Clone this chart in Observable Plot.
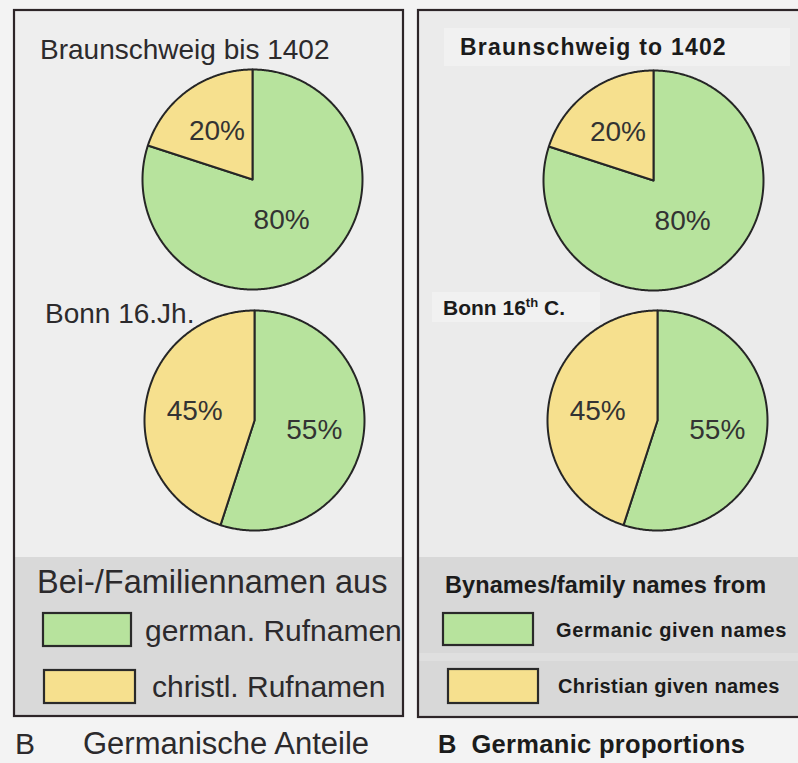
<!DOCTYPE html>
<html><head><meta charset="utf-8">
<script src="https://cdn.jsdelivr.net/npm/d3@7"></script>
<script src="https://cdn.jsdelivr.net/npm/@observablehq/plot@0.6"></script>
<style>
html,body{margin:0;padding:0;background:#f3f3f3;}
#root{position:relative;width:798px;height:763px;overflow:hidden;font-family:"Liberation Sans",Arial,sans-serif;}
.pie{position:absolute;}
#bg{position:absolute;left:0;top:0;}
</style></head>
<body><div id="root"></div>
<script>
// ---- data ----
const categories = ["germanic", "christian"];
const germanicShare = [80, 55];   // Braunschweig bis 1402, Bonn 16. Jh.
const christianShare = [20, 45];
const titlesDE = ["Braunschweig bis 1402", "Bonn 16.Jh."];
const titlesEN = ["Braunschweig to 1402", "Bonn 16", "th", " C."];
const legendTitleDE = "Bei-/Familiennamen aus";
const legendTitleEN = "Bynames/family names from";
const legendDE = ["german. Rufnamen", "christl. Rufnamen"];
const legendEN = ["Germanic given names", "Christian given names"];
const captionDE = ["B", "Germanische Anteile"];
const captionEN = "B  Germanic proportions";
const colors = ["#b7e39d", "#f6e08e"];

// ---- layout ----
const root = d3.select("#root");
const W = 798, H = 763;
const svg = root.append("svg").attr("id", "bg").attr("width", W).attr("height", H);

// backgrounds
svg.append("rect").attr("x", 0).attr("y", 0).attr("width", W).attr("height", H).attr("fill", "#f3f3f3");
svg.append("rect").attr("x", 14).attr("y", 10).attr("width", 389).attr("height", 706).attr("fill", "#eeeeee");
svg.append("rect").attr("x", 418).attr("y", 10).attr("width", 390).attr("height", 707).attr("fill", "#ebebeb");
svg.append("rect").attr("x", 14).attr("y", 557).attr("width", 389).attr("height", 159).attr("fill", "#d9d9d9");
svg.append("rect").attr("x", 418).attr("y", 557).attr("width", 390).attr("height", 160).attr("fill", "#d8d8d8");
svg.append("rect").attr("x", 418).attr("y", 653).attr("width", 390).attr("height", 8).attr("fill", "#dfdfdf");
svg.append("rect").attr("x", 444).attr("y", 28).attr("width", 346).attr("height", 38).attr("fill", "#f1f1f1");
svg.append("rect").attr("x", 432).attr("y", 292).attr("width", 168).attr("height", 30).attr("fill", "#f1f1f1");
// frames
svg.append("rect").attr("x", 14).attr("y", 10).attr("width", 389).attr("height", 706)
  .attr("fill", "none").attr("stroke", "#2d2528").attr("stroke-width", 2.2);
svg.append("rect").attr("x", 418).attr("y", 10).attr("width", 392).attr("height", 707)
  .attr("fill", "none").attr("stroke", "#2d2528").attr("stroke-width", 2.2);

function txt(s, x, y, size, weight, extra) {
  const t = svg.append("text").attr("x", x).attr("y", y)
    .attr("font-family", "Liberation Sans, Arial, sans-serif")
    .attr("font-size", size).attr("font-weight", weight || "normal")
    .attr("fill", weight === "bold" ? "#1b1b1b" : "#2c2a2c").text(s);
  if (extra) extra(t);
  return t;
}

// left (German) panel
txt(titlesDE[0], 40, 59, 28);
txt(titlesDE[1], 45, 323, 28);
txt(legendTitleDE, 37, 593, 32.5);
txt(legendDE[0], 145, 641, 30);
txt(legendDE[1], 152, 697, 30);
txt(captionDE[0], 15, 754, 30);
txt(captionDE[1], 83, 754, 31);

// right (English) panel
txt(titlesEN[0], 460, 55, 23, "bold", t => t.attr("letter-spacing", 1.2));
{
  const t = txt(titlesEN[1], 443, 315, 21, "bold");
  t.append("tspan").attr("font-size", 13).attr("dy", -8).text(titlesEN[2]);
  t.append("tspan").attr("dy", 8).text(titlesEN[3]);
}
txt(legendTitleEN, 445, 593, 23.5, "bold", t => t.attr("letter-spacing", 0.1));
txt(legendEN[0], 556, 637, 20, "bold", t => t.attr("letter-spacing", 0.6));
txt(legendEN[1], 558, 693, 20, "bold", t => t.attr("letter-spacing", 0.4));
txt(captionEN, 438, 753, 25.5, "bold", t => t.attr("xml:space", "preserve").style("white-space", "pre").attr("letter-spacing", 0.3));

// legend swatches
const swatches = [
  [43, 613, 88, 33], [44, 670, 91, 33],
  [443, 613, 90, 32], [448, 669, 90, 34]
];
swatches.forEach(([x, y, w, h], i) => {
  svg.append("rect").attr("x", x).attr("y", y).attr("width", w).attr("height", h)
    .attr("fill", colors[i % 2]).attr("stroke", "#2a2a2a").attr("stroke-width", 2.2);
});

// ---- pies drawn with Plot ----
const pie = d3.pie().sort(null).value(d => d.value).startAngle(0).endAngle(2 * Math.PI);
const R = 110, S = 240;
function pieChart(idx, cx, cy) {
  const rows = categories.map((c, i) => ({cat: c, value: i === 0 ? germanicShare[idx] : christianShare[idx]}));
  const slices = pie(rows);
  const pts = [];
  for (const s of slices) {
    pts.push({cat: s.data.cat, x: 0, y: 0});
    const n = Math.max(2, Math.ceil((s.endAngle - s.startAngle) / 0.01));
    for (let k = 0; k <= n; k++) {
      const a = s.startAngle + (s.endAngle - s.startAngle) * k / n;
      pts.push({cat: s.data.cat, x: Math.sin(a), y: Math.cos(a)});
    }
    pts.push({cat: s.data.cat, x: 0, y: 0});
  }
  const labels = slices.map(s => {
    const a = (s.startAngle + s.endAngle) / 2;
    const r = s.endAngle - s.startAngle > Math.PI * 1.5 ? 0.45 : 0.55;
    return {x: r * Math.sin(a), y: r * Math.cos(a), text: s.data.value + "%"};
  });
  const half = S / 2 / R;
  const chart = Plot.plot({
    width: S, height: S, margin: 0,
    style: {background: "transparent", fontFamily: "Liberation Sans, Arial, sans-serif", overflow: "visible"},
    x: {domain: [-half, half], axis: null},
    y: {domain: [-half, half], axis: null},
    color: {domain: categories, range: colors},
    marks: [
      Plot.line(pts, {x: "x", y: "y", z: "cat", fill: "cat", stroke: "#262626", strokeWidth: 2, strokeLinejoin: "round"}),
      Plot.text(labels, {x: "x", y: "y", text: "text", fontSize: 28, fill: "#333"})
    ]
  });
  const div = root.append("div").attr("class", "pie")
    .style("left", (cx - S / 2) + "px").style("top", (cy - S / 2) + "px");
  div.node().appendChild(chart);
}
pieChart(0, 252, 179);
pieChart(1, 254, 420);
pieChart(0, 653, 180);
pieChart(1, 657, 420);
</script>
</body></html>
